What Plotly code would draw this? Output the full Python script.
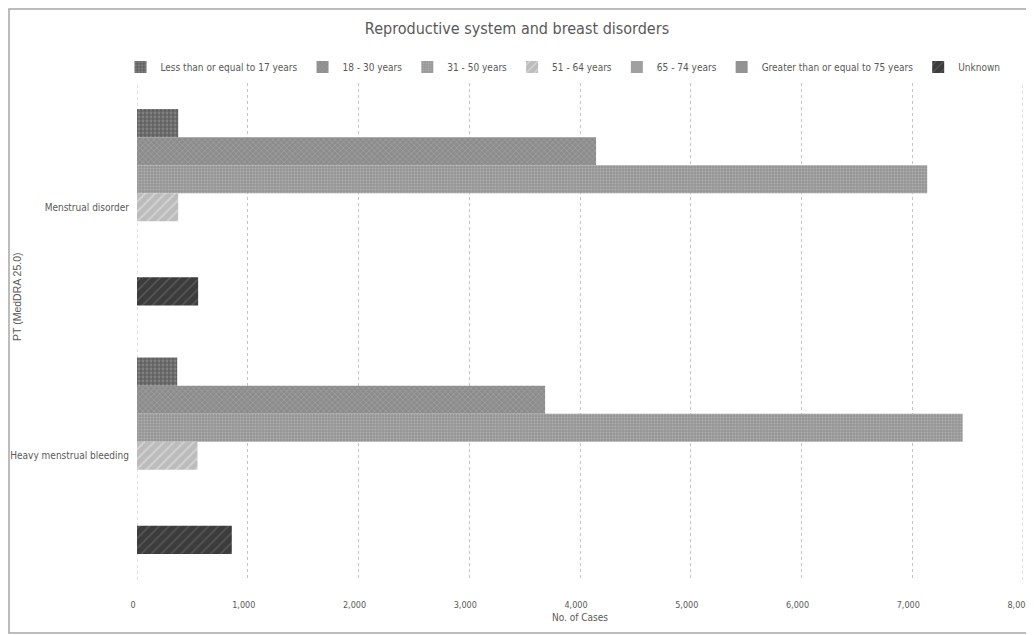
import plotly.graph_objects as go

categories = ["Menstrual disorder", "Heavy menstrual bleeding"]
series_names = [
    "Less than or equal to 17 years",
    "18 - 30 years",
    "31 - 50 years",
    "51 - 64 years",
    "65 - 74 years",
    "Greater than or equal to 75 years",
    "Unknown",
]
le17 = [372, 363]
a18_30 = [4145, 3685]
a31_50 = [7135, 7455]
a51_64 = [372, 546]
a65_74 = [0, 0]
ge75 = [0, 0]
unknown = [552, 856]
values = [le17, a18_30, a31_50, a51_64, a65_74, ge75, unknown]

tick_vals = [0, 1000, 2000, 3000, 4000, 5000, 6000, 7000, 8000]
tick_text = ["0", "1,000", "2,000", "3,000", "4,000", "5,000", "6,000", "7,000", "8,000"]

styles = [
    dict(color="#6e6e6e", pattern=dict(shape=".", fgcolor="#a0a0a0", bgcolor="#626262", size=4, solidity=0.4)),
    dict(color="#999999", pattern=dict(shape="x", fgcolor="#bababa", bgcolor="#8c8c8c", size=4, solidity=0.3)),
    dict(color="#a4a4a4", pattern=dict(shape=".", fgcolor="#c8c8c8", bgcolor="#959595", size=3, solidity=0.4)),
    dict(color="#c6c6c6", pattern=dict(shape="/", fgcolor="#ececec", bgcolor="#bcbcbc", size=7, solidity=0.25)),
    dict(color="#a0a0a0", pattern=dict(shape="", fgcolor="#a0a0a0", bgcolor="#a0a0a0")),
    dict(color="#939393", pattern=dict(shape="", fgcolor="#939393", bgcolor="#939393")),
    dict(color="#444444", pattern=dict(shape="/", fgcolor="#7a7a7a", bgcolor="#3c3c3c", size=7, solidity=0.2)),
]

FONT = "Liberation Sans Narrow, DejaVu Sans Condensed, Arial Narrow, sans-serif"
GREY = "#595959"
GRID = "#c4c4c4"

W, H = 1026, 627  # page shows the figure offset by the 8px body margin

fig = go.Figure()
for name, vals, st in zip(series_names, values, styles):
    fig.add_trace(go.Bar(
        name=name, y=categories, x=vals, orientation="h",
        marker=dict(color=st["color"], pattern=st["pattern"], line=dict(width=0)),
    ))

fig.update_layout(
    width=W, height=H,
    margin=dict(l=129, r=11, t=75, b=55, autoexpand=False),
    paper_bgcolor="white", plot_bgcolor="white",
    barmode="group", bargap=0.21, bargroupgap=0,
    font=dict(family=FONT, size=10, color=GREY),
    title=dict(text="Reproductive system and breast disorders", x=509 / W, xanchor="center",
               xref="container",
               y=1 - 20 / H, yanchor="middle", font=dict(family=FONT, size=16, color=GREY)),
    legend=dict(orientation="h", xref="container", x=555 / W, xanchor="center",
                yref="container", y=1 - 59 / H, yanchor="middle",
                font=dict(family=FONT, size=10, color=GREY), itemwidth=30,
                traceorder="normal", bgcolor="rgba(0,0,0,0)"),
    xaxis=dict(range=[0, 8000], tickvals=tick_vals, ticktext=tick_text,
               showgrid=True, gridcolor=GRID, griddash="dot", gridwidth=1,
               zeroline=False, showline=False, ticks="", automargin=False,
               ticklabelstandoff=18, ticklabeloverflow="allow", ticklabelshift=-4,
               tickfont=dict(family=FONT, size=9, color=GREY),
               title=dict(text="No. of Cases", font=dict(family=FONT, size=10, color=GREY), standoff=4)),
    yaxis=dict(categoryorder="array", categoryarray=categories, autorange="reversed",
               showgrid=False, zeroline=False, showline=False, ticks="", automargin=False,
               ticklabelstandoff=7,
               tickfont=dict(family=FONT, size=10, color=GREY)),
    showlegend=True,
)

# gridlines at the two ends of the value axis (plotly omits them at the plot edges)
for tv in (tick_vals[0], tick_vals[-1]):
    fig.add_shape(type="line", xref="x", yref="paper", x0=tv, x1=tv, y0=0, y1=1,
                  line=dict(color=GRID, width=1, dash="dot"), layer="below")

fig.add_annotation(text="PT (MedDRA 25.0)", xref="paper", yref="paper",
                   x=(17 - 137) / 886, y=(580 - 296) / 497, textangle=-90,
                   showarrow=False, xanchor="center", yanchor="middle",
                   font=dict(family="Liberation Sans, Arial, sans-serif", size=10.5, color=GREY))

# chart-area border (drawn at the figure edges)
fig.add_shape(type="rect", xref="paper", yref="paper",
              x0=(1 - 129) / 886, x1=(1023 - 129) / 886,
              y0=(572 - 625) / 497, y1=(572 - 1) / 497,
              line=dict(color="#a6a6a6", width=1.5), fillcolor="rgba(0,0,0,0)", layer="below")

fig.write_html("out.html")
